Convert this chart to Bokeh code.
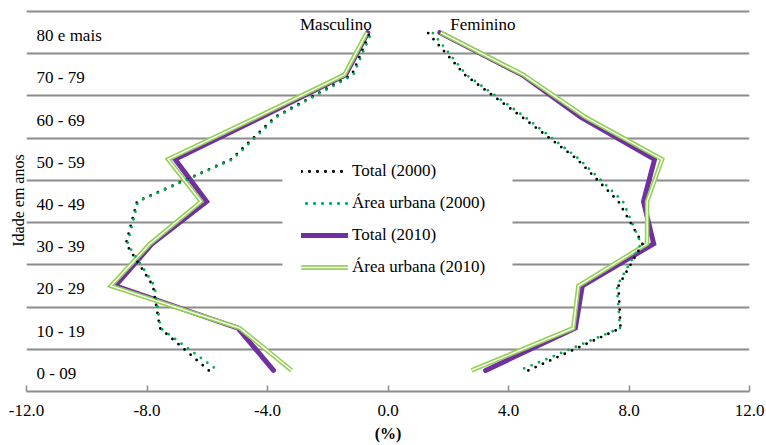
import numpy as np
from bokeh.plotting import figure
from bokeh.models import (ColumnDataSource, Range1d, FixedTicker, NumeralTickFormatter,
                          Label, Legend, LegendItem, Title, BoxAnnotation)
from bokeh.core.properties import value
from bokeh.embed import file_html
from bokeh.resources import INLINE

# ---------------- data ----------------
age_groups = ["0 - 09", "10 - 19", "20 - 29", "30 - 39", "40 - 49",
              "50 - 59", "60 - 69", "70 - 79", "80 e mais"]
x_ticks = [-12, -8, -4, 0, 4, 8, 12]

# Masculino (negative side), %
total_2000_m = [-5.95, -7.57, -7.80, -8.70, -8.33, -5.20, -3.75, -1.20, -0.60]
urbana_2000_m = [-5.65, -7.55, -7.75, -8.65, -8.30, -5.15, -3.70, -1.15, -0.55]
total_2010_m = [-3.80, -4.98, -9.05, -7.83, -6.02, -7.07, -4.20, -1.41, -0.67]
urbana_2010_m = [-3.20, -4.92, -9.20, -7.90, -6.20, -7.30, -4.35, -1.45, -0.70]

# Feminino (positive side), %
total_2000_f = [4.66, 7.72, 7.65, 8.45, 7.65, 6.28, 4.45, 2.55, 1.32]
urbana_2000_f = [4.37, 7.70, 7.60, 8.40, 7.80, 6.35, 4.55, 2.60, 1.48]
total_2010_f = [3.24, 6.22, 6.45, 8.82, 8.48, 8.85, 6.40, 4.45, 1.72]
urbana_2010_f = [2.77, 6.15, 6.32, 8.60, 8.60, 9.10, 6.55, 4.50, 1.75]

series_labels = ["Total (2000)", "Área urbana (2000)", "Total (2010)", "Área urbana (2010)"]

# ---------------- figure ----------------
FONT = "Liberation Serif"
idx = list(range(len(age_groups)))
band = 380 / 9.0          # pixels per age band
FRAME_BOTTOM = 391
PX_PER_UNIT = 723 / 24.0


def ydat(py):
    # page pixel row -> data y
    return -0.5 + (FRAME_BOTTOM - py) / band


def xdat(px):
    # page pixel column -> data x
    return -12 + (px - 26) / PX_PER_UNIT


p = figure(width=766, height=445,
           x_range=Range1d(-12, 12), y_range=Range1d(-0.5, 8.5 + 2 / band),
           output_backend="svg", toolbar_location=None, y_axis_location=None,
           min_border_left=26, min_border_right=17, min_border_top=9, min_border_bottom=54)
p.outline_line_color = None
p.background_fill_color = "white"

p.xgrid.visible = False
p.ygrid.ticker = FixedTicker(ticks=[i + 0.5 for i in idx])
p.ygrid.grid_line_color = "#8c8c8c"
p.ygrid.grid_line_width = 1.8

ax = p.xaxis[0]
ax.ticker = FixedTicker(ticks=x_ticks)
ax.formatter = NumeralTickFormatter(format="0.0")
ax.axis_line_color = "#8c8c8c"
ax.axis_line_width = 1.8
ax.major_tick_line_color = "#8c8c8c"
ax.major_tick_line_width = 1.5
ax.major_tick_in = 6
ax.major_tick_out = 0
ax.minor_tick_line_color = None
ax.major_label_standoff = 13
ax.major_label_text_font = FONT
ax.major_label_text_font_size = "17px"
ax.major_label_text_color = "black"
ax.axis_label = "(%)"
ax.axis_label_standoff = 6
ax.axis_label_text_font = FONT
ax.axis_label_text_font_size = "16px"
ax.axis_label_text_font_style = "bold"
ax.axis_label_text_color = "black"


def src(xs):
    return ColumnDataSource(dict(x=xs, y=idx))


PURPLE = "#7030a0"
LGREEN = "#92d050"
GREEN = "#00b050"

rends = {k: [] for k in series_labels}
for xs in (total_2010_m, total_2010_f):
    r = p.line("x", "y", source=src(xs), line_color=PURPLE, line_width=5,
               line_join="miter", line_cap="round")
    rends["Total (2010)"].append(r)

for xs in (urbana_2010_m, urbana_2010_f):
    r1 = p.line("x", "y", source=src(xs), line_color=LGREEN, line_width=4.5,
                line_join="miter", line_cap="butt")
    r2 = p.line("x", "y", source=src(xs), line_color="white", line_width=1.4,
                line_join="miter", line_cap="butt")
    rends["Área urbana (2010)"] += [r1, r2]

for xs in (total_2000_m, total_2000_f):
    r = p.line("x", "y", source=src(xs), line_color="black", line_width=2.8,
               line_dash="0 8", line_cap="round")
    rends["Total (2000)"].append(r)

for xs in (urbana_2000_m, urbana_2000_f):
    r = p.line("x", "y", source=src(xs), line_color=GREEN, line_width=2.8,
               line_dash="0 8", line_cap="round", line_dash_offset=3)
    rends["Área urbana (2000)"].append(r)

# category labels inside the plot
cat_src = ColumnDataSource(dict(x=[-11.665] * len(age_groups), y=idx, text=age_groups))
p.text("x", "y", text="text", source=cat_src, text_font=value(FONT),
       text_font_size="17px", text_align="left", text_baseline="middle",
       text_color="black", y_offset=3)

# sex headings
p.add_layout(Label(x=-1.73, y=ydat(24), text="Masculino", text_font=FONT,
                   text_font_size="17px", text_align="center", text_baseline="middle",
                   text_color="black"))
p.add_layout(Label(x=3.15, y=ydat(24), text="Feminino", text_font=FONT,
                   text_font_size="17px", text_align="center", text_baseline="middle",
                   text_color="black"))

# vertical axis title
p.add_layout(Title(text="Idade em anos", align="center", offset=39, standoff=0,
                   text_font=FONT, text_font_size="16px", text_font_style="normal",
                   text_color="black"), "left")

# white legend background area
p.add_layout(BoxAnnotation(left=xdat(282), right=xdat(512), top=ydat(150), bottom=ydat(283),
                           fill_color="white", fill_alpha=1.0, line_color=None))

legend = Legend(items=[LegendItem(label=k, renderers=rends[k]) for k in series_labels],
                location=(275, 114), padding=15, spacing=12, margin=0,
                glyph_width=47, glyph_height=20, label_height=20, label_standoff=4,
                label_text_font=FONT, label_text_font_size="17px",
                label_text_color="black",
                border_line_color=None, background_fill_color="white",
                background_fill_alpha=1.0)
p.add_layout(legend)

open("out.html", "w").write(file_html(p, INLINE))
